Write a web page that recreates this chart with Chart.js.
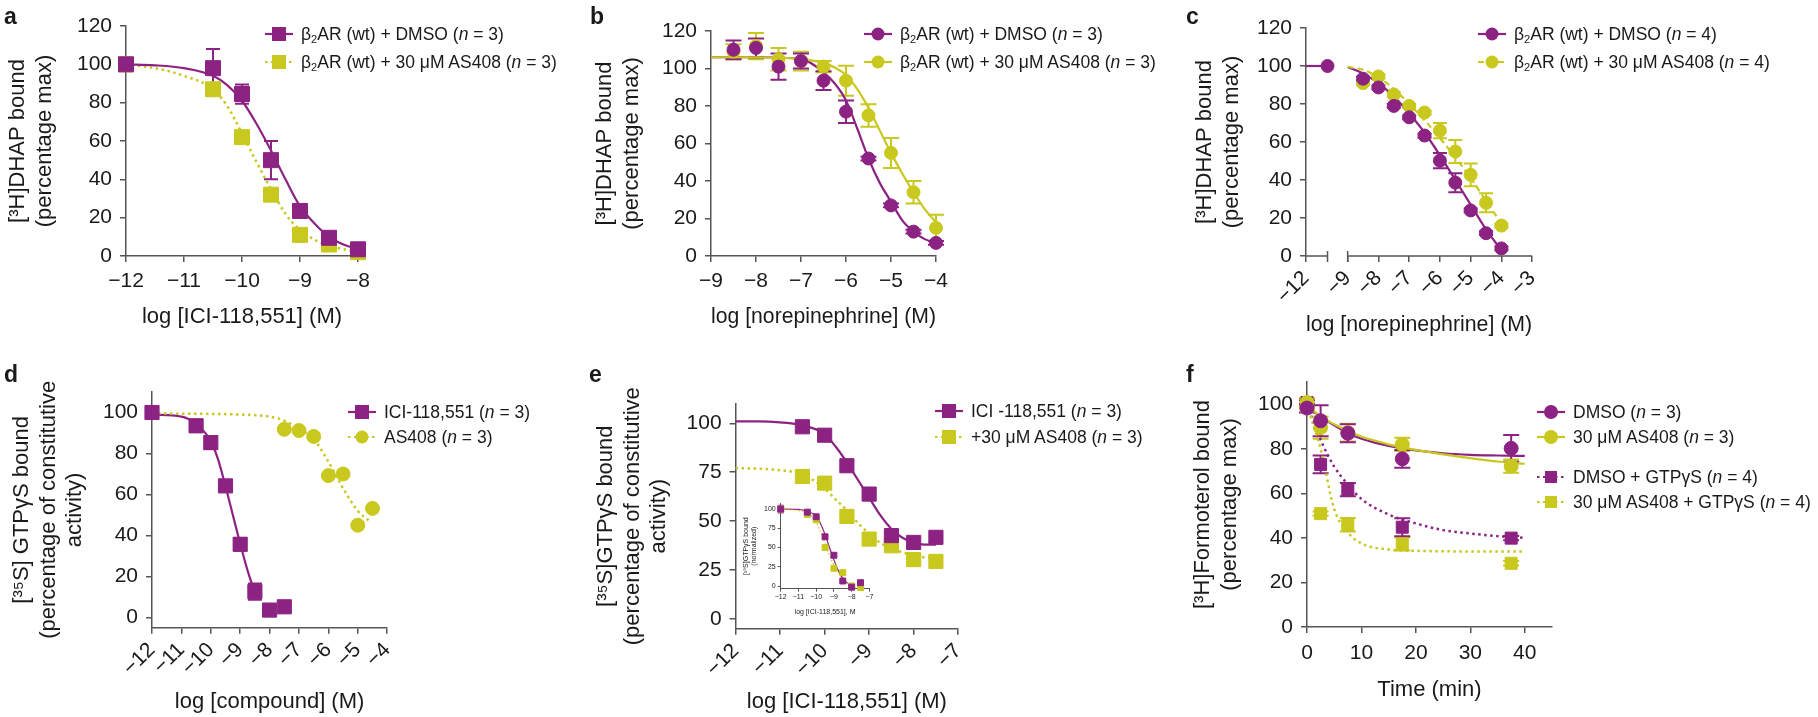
<!DOCTYPE html>
<html>
<head>
<meta charset="utf-8">
<script src="https://cdn.jsdelivr.net/npm/chart.js@4.4.0/dist/chart.umd.min.js"></script>
<style>
  body { margin: 0; background: #fff; }
  #fig { position: relative; width: 1818px; height: 717px; overflow: hidden; background: #fff;
         font-family: "Liberation Sans", Arial, Helvetica, sans-serif; color: #1a1a1a; }
  .tag { position: absolute; font-weight: bold; font-size: 23px; line-height: 24px; }
  .leg { position: absolute; font-size: 17.5px; line-height: 22px; white-space: nowrap; }
  .leg sub { font-size: 11px; vertical-align: -3px; line-height: 0; }
</style>
</head>
<body>
<div id="fig"></div>
<script>
const PURPLE = '#8c2382';
const YELLOW = '#c8c81e';
const AXIS = '#555';
const TXT = '#1a1a1a';

// ---- panel a : ICI-118,551 competition ----
const aX = [-12, -10.5, -10, -9.5, -9, -8.5, -8];
const aDmso = [100, 98, 84.5, 50, 23.5, 9.5, 3.5];
const aDmsoErr = [0, 10, 5, 10, 1.5, 1, 1];
const aAs408 = [100, 87, 62, 32, 11, 6, 2];
const aFitX = [-12, -11.5, -11, -10.5, -10.25, -10, -9.75, -9.5, -9.25, -9, -8.75, -8.5, -8.25, -8];
const aDmsoFit = [100, 99.5, 98, 94, 89, 81, 69, 55, 40, 26, 17, 10, 6, 3.5];
const aAs408Fit = [100, 98, 94, 87, 78, 64, 49, 35, 22, 13.5, 8.5, 5.5, 3.5, 2];
const aXTicks = [-12, -11, -10, -9, -8];
const aYTicks = [0, 20, 40, 60, 80, 100, 120];

// ---- panel b : norepinephrine competition ----
const bX = [-8.5, -8, -7.5, -7, -6.5, -6, -5.5, -5, -4.5, -4];
const bDmso = [110, 111, 101, 104, 93.5, 77, 52, 27, 13, 7];
const bDmsoErr = [5, 5, 7, 4, 5, 6, 1, 1, 1, 1];
const bAs408 = [109, 112, 105, 104, 101, 93.5, 75, 55, 34, 15];
const bAs408Err = [4, 7, 6, 5, 3, 8, 6, 8, 6, 7];
const bFitX = [-9, -8, -7, -6.5, -6.25, -6, -5.75, -5.5, -5.25, -5, -4.75, -4.5, -4.25, -4];
const bDmsoFit = [106, 106, 105, 98, 92, 83, 68, 52, 39, 29, 19, 13, 9, 7];
const bAs408Fit = [106, 106, 105, 103, 100.5, 96.5, 89, 79, 67, 55, 44, 34, 25, 18];
const bXTicks = [-9, -8, -7, -6, -5, -4];
const bYTicks = [0, 20, 40, 60, 80, 100, 120];

// ---- panel c : norepinephrine, broken axis ----
const cVehicleX = -11.3;
const cVehicle = 100;
const cX = [-8.5, -8, -7.5, -7, -6.5, -6, -5.5, -5, -4.5, -4];
const cDmso = [93.3, 88.7, 79, 73, 63.4, 50.2, 38.6, 24, 12, 4];
const cDmsoErr = [1, 1, 1, 1, 1, 4, 5, 1, 1, 1];
const cAs408 = [91, 94.5, 85, 79, 75.5, 66, 55, 42.7, 28, 16];
const cAs408Err = [1, 1, 1, 1, 1, 4, 6, 6, 5, 1];
const cFitX = [-9, -8.5, -8, -7.5, -7, -6.5, -6, -5.5, -5, -4.5, -4];
const cDmsoFit = [99.5, 96, 91, 84, 75, 65, 53, 40, 27, 14, 3];
const cAs408Fit = [99.5, 98, 94, 88, 80, 71.5, 62, 52, 41, 29, 17];
const cXTicks = [-12, -9, -8, -7, -6, -5, -4, -3];
const cYTicks = [0, 20, 40, 60, 80, 100, 120];
const cGap = 1.645; // axis units removed by the break

// ---- panel d : [35S]GTPgS ----
const dIciX = [-12, -10.5, -10, -9.5, -9, -8.5, -8, -7.5];
const dIci = [100, 93.5, 85.3, 64.2, 35.7, 12.6, 3.6, 5.2];
const dIciErr = [0, 3, 3, 2, 3, 4, 2, 2];
const dAsX = [-7.5, -7, -6.5, -6, -5.5, -5, -4.5];
const dAs408 = [91.8, 91.2, 88.3, 69.2, 70, 45, 53.2];
const dIciFitX = [-12, -11, -10.5, -10, -9.75, -9.5, -9.25, -9, -8.75, -8.5];
const dIciFit = [99, 98, 94.5, 86, 77, 64, 50, 36, 23, 12];
const dAsFitX = [-12, -10, -9, -8, -7.5, -7, -6.5, -6, -5.5, -5, -4.6];
const dAsFit = [99.5, 99.3, 99, 98, 96, 92, 87, 76, 63, 52, 47];
const dXTicks = [-12, -11, -10, -9, -8, -7, -6, -5, -4];
const dYTicks = [0, 20, 40, 60, 80, 100];

// ---- panel e : ICI-118,551 +/- AS408 ----
const eX = [-10.5, -10, -9.5, -9, -8.5, -8, -7.5];
const eIci = [98.2, 93.9, 78.3, 63.8, 42.6, 39.1, 41.7];
const eAs408 = [72.8, 69.4, 52.4, 40.8, 37.4, 30.3, 29.4];
const eFitX = [-12, -11.5, -11, -10.5, -10, -9.75, -9.5, -9.25, -9, -8.75, -8.5, -8.25, -8, -7.75, -7.5];
const eIciFit = [101, 101, 100.5, 99, 94.5, 88, 80, 71, 62, 53, 46, 41.5, 39, 38, 38];
const eAs408Fit = [77, 76.8, 76, 74, 66.5, 61, 55.5, 49, 43.5, 39, 36, 34, 32.5, 31.5, 31];
const eXTicks = [-12, -11, -10, -9, -8, -7];
const eYTicks = [0, 25, 50, 75, 100];

// inset (normalized)
const insX = [-12, -10.5, -10, -9.5, -9, -8.5, -8, -7.5];
const insIci = [100, 96, 90, 64, 40, 6.5, -1.5, 4.3];
const insIciErr = [5, 0, 0, 0, 0, 0, 0, 0];
const insAs408 = [100, 93, 86, 50, 23, 17.4, 0, -2];
const insFitX = [-12, -11, -10.5, -10, -9.75, -9.5, -9.25, -9, -8.75, -8.5, -8.25, -8];
const insIciFit = [100, 99.5, 97, 91, 81, 67, 50, 34, 20, 10, 4, 1];
const insAs408Fit = [100, 98, 95, 83, 70, 55, 40, 27, 17, 9, 4, 1];
const insXTicks = [-12, -11, -10, -9, -8, -7];
const insYTicks = [0, 25, 50, 75, 100];

// ---- panel f : [3H]formoterol dissociation ----
const fX = [0, 2.5, 7.5, 17.5, 37.5];
const fDmso = [98.3, 92.6, 87, 75.5, 80.2];
const fDmsoErr = [2, 7, 4, 4, 6];
const fAs408 = [100.8, 89.5, 87.3, 82, 72.2];
const fAs408Err = [2, 5, 4, 3, 3];
const fDmsoGtp = [100.8, 73, 61.7, 44.8, 39.9];
const fDmsoGtpErr = [1, 4, 3, 4, 1];
const fAs408Gtp = [99, 50.9, 45.9, 37.3, 28.6];
const fAs408GtpErr = [1, 1, 3, 3, 1];
const fFitX = [0, 1, 2.5, 5, 7.5, 10, 15, 20, 25, 30, 35, 40];
const fDmsoFit = [98.5, 97, 94.5, 90.5, 87, 84.5, 81.3, 79.3, 78, 77.3, 77, 76.8];
const fAs408Fit = [99.5, 97.5, 94.5, 91, 88, 85.5, 82, 79.5, 77.5, 75.8, 74.3, 73.3];
const fDmsoGtpFit = [100, 93, 84, 72, 64, 57.5, 50.5, 46.5, 43.5, 42, 40.8, 40];
const fAs408GtpFit = [100, 92, 80, 53, 42.5, 37.5, 34.8, 34.2, 34, 33.9, 33.9, 33.9];
const fXTicks = [0, 10, 20, 30, 40];
const fYTicks = [0, 20, 40, 60, 80, 100];

Chart.defaults.font.family = '"Liberation Sans", Arial, Helvetica, sans-serif';
Chart.defaults.color = TXT;

const fig = document.getElementById('fig');
const fmt = v => String(v).replace('-', '\u2212');
const xy = (xs, ys) => xs.map((x, i) => ({ x: x, y: ys[i] }));

function points(xs, ys, errs, color, style, r, order) {
  return { data: xy(xs, ys), errors: errs, showLine: false, pointStyle: style, pointRadius: r,
           pointBackgroundColor: color, pointBorderColor: color, pointBorderWidth: 1,
           backgroundColor: color, borderColor: color, order: order, clip: false };
}
function fit(xs, ys, color, dash, lw) {
  return { data: xy(xs, ys), showLine: true, pointRadius: 0, borderColor: color, borderWidth: lw || 2.2,
           borderDash: dash || [], cubicInterpolationMode: 'monotone', fill: false, order: 5, clip: false };
}

// error bars, drawn under the markers
const errorBars = {
  id: 'errorBars',
  beforeDatasetsDraw(chart, args, opts) {
    const ctx = chart.ctx, xs = chart.scales.x, ys = chart.scales.y;
    const cap = opts.cap || 7;
    chart.data.datasets.forEach(ds => {
      if (!ds.errors) return;
      ctx.save();
      ctx.strokeStyle = ds.borderColor;
      ctx.lineWidth = opts.width || 2;
      ds.data.forEach((p, i) => {
        const e = ds.errors[i];
        if (!e) return;
        const px = xs.getPixelForValue(p.x);
        const top = ys.getPixelForValue(p.y + e), bot = ys.getPixelForValue(p.y - e);
        ctx.beginPath();
        ctx.moveTo(px, top); ctx.lineTo(px, bot);
        ctx.moveTo(px - cap, top); ctx.lineTo(px + cap, top);
        ctx.moveTo(px - cap, bot); ctx.lineTo(px + cap, bot);
        ctx.stroke();
      });
      ctx.restore();
    });
  }
};

// broken x axis (panel c)
const axisBreak = {
  id: 'axisBreak',
  afterDraw(chart, args, opts) {
    if (!opts.segments) return;
    const ctx = chart.ctx, xs = chart.scales.x, yb = chart.chartArea.bottom;
    ctx.save();
    ctx.strokeStyle = AXIS;
    ctx.lineWidth = 1.5;
    opts.segments.forEach(s => {
      ctx.beginPath();
      ctx.moveTo(xs.getPixelForValue(s[0]), yb);
      ctx.lineTo(xs.getPixelForValue(s[1]), yb);
      ctx.stroke();
    });
    opts.caps.forEach(v => {
      const p = xs.getPixelForValue(v);
      ctx.beginPath(); ctx.moveTo(p, yb - 5); ctx.lineTo(p, yb + 6); ctx.stroke();
    });
    ctx.restore();
  }
};

// g: canvas box (cl, ct, cw, ch) and plot area (l, r, t, b) in page pixels
function panel(g, s) {
  const cv = document.createElement('canvas');
  cv.width = g.cw; cv.height = g.ch;
  cv.style.cssText = `position:absolute;left:${g.cl}px;top:${g.ct}px;width:${g.cw}px;height:${g.ch}px;`;
  fig.appendChild(cv);
  const fs = s.fs || 21, tfs = s.tfs || 22, tl = s.tl || 6, lw = s.lw || 1.5;
  const base = (ticks, label) => ({
    type: 'linear',
    afterBuildTicks: sc => { sc.ticks = ticks.map(v => ({ value: v })); },
    grid: { display: true, drawOnChartArea: false, drawTicks: true, tickLength: tl, color: AXIS, lineWidth: lw },
    border: { display: true, color: AXIS, width: lw },
    ticks: { font: { size: fs }, color: TXT, autoSkip: false, callback: label || fmt }
  });
  const x = base(s.xTicks, s.xLabel);
  x.min = s.xMin; x.max = s.xMax;
  x.afterFit = sc => { sc.height = g.ct + g.ch - g.b; };
  x.ticks.padding = s.xPad != null ? s.xPad : 7;
  x.ticks.maxRotation = s.rot || 0; x.ticks.minRotation = s.rot || 0;
  x.title = { display: true, text: s.xTitle, color: TXT, font: { size: tfs, lineHeight: 1.2 }, padding: { top: 0, bottom: 0 } };
  if (s.noXBorder) x.border.display = false;
  const y = base(s.yTicks);
  y.min = s.yMin; y.max = s.yMax;
  y.afterFit = sc => { sc.width = g.l - g.cl; };
  y.ticks.padding = s.yPad != null ? s.yPad : 8;
  y.title = { display: true, text: s.yTitle, color: TXT, font: { size: tfs, lineHeight: s.tlh || 1.2 }, padding: { top: s.ytPad != null ? s.ytPad : 5, bottom: 0 } };
  return new Chart(cv, {
    type: 'scatter',
    data: { datasets: s.datasets },
    options: {
      responsive: false, animation: false, events: [],
      layout: { padding: { left: 0, bottom: 0, top: g.t - g.ct, right: g.cl + g.cw - g.r } },
      plugins: { legend: { display: false }, tooltip: { enabled: false },
                 errorBars: { cap: s.cap || 7, width: s.ebw || 2 }, axisBreak: s.axisBreak || {} },
      scales: { x: x, y: y }
    },
    plugins: [errorBars, axisBreak]
  });
}

function tag(txt, left, top) {
  const d = document.createElement('div');
  d.className = 'tag'; d.textContent = txt;
  d.style.left = left + 'px'; d.style.top = top + 'px';
  fig.appendChild(d);
}

function legend(cx, rows) {
  rows.forEach(r => {
    const mk = r.shape === 'rect'
      ? `<rect x="${15 - r.s / 2}" y="${11 - r.s / 2}" width="${r.s}" height="${r.s}" fill="${r.color}"/>`
      : `<circle cx="15" cy="11" r="${r.s / 2}" fill="${r.color}"/>`;
    const svg = document.createElementNS('http://www.w3.org/2000/svg', 'svg');
    svg.setAttribute('width', 30); svg.setAttribute('height', 22);
    svg.style.cssText = `position:absolute;left:${cx - 15}px;top:${r.y - 11}px;`;
    svg.innerHTML = `<line x1="1" y1="11" x2="29" y2="11" stroke="${r.color}" stroke-width="2.2"${r.dash ? ` stroke-dasharray="${r.dash}"` : ''}/>` + mk;
    fig.appendChild(svg);
    const t = document.createElement('div');
    t.className = 'leg'; t.innerHTML = r.html;
    t.style.left = (cx + 22) + 'px'; t.style.top = (r.y - 11) + 'px';
    fig.appendChild(t);
  });
}

const DOT = [2.5, 3.5];
const b2 = 'β<sub>2</sub>AR (wt)';

// ---- a ----
panel({ cl: 0, ct: 0, cw: 378, ch: 330, l: 126, r: 358, t: 26, b: 256 }, {
  xMin: -12, xMax: -8, yMin: 0, yMax: 120, xTicks: aXTicks, yTicks: aYTicks,
  xTitle: 'log [ICI-118,551] (M)', yTitle: ['[³H]DHAP bound', '(percentage max)'],
  datasets: [
    fit(aFitX, aDmsoFit, PURPLE), fit(aFitX, aAs408Fit, YELLOW, DOT, 2.5),
    points(aX, aAs408, null, YELLOW, 'rect', 10.6, 2),
    points(aX, aDmso, aDmsoErr, PURPLE, 'rect', 10.6, 1)
  ]
});
tag('a', 4, 4);
legend(279, [
  { y: 34, color: PURPLE, shape: 'rect', s: 14, html: b2 + ' + DMSO (<i>n</i> = 3)' },
  { y: 62, color: YELLOW, shape: 'rect', s: 14, dash: '2.5 3.5', html: b2 + ' + 30 μM AS408 (<i>n</i> = 3)' }
]);

// ---- b ----
panel({ cl: 587, ct: 0, cw: 369, ch: 330, l: 711, r: 936, t: 31, b: 256 }, {
  xMin: -9, xMax: -4, yMin: 0, yMax: 120, xTicks: bXTicks, yTicks: bYTicks, cap: 8,
  xTitle: 'log [norepinephrine] (M)', yTitle: ['[³H]DHAP bound', '(percentage max)'],
  datasets: [
    fit(bFitX, bAs408Fit, YELLOW), fit(bFitX, bDmsoFit, PURPLE),
    points(bX, bAs408, bAs408Err, YELLOW, 'circle', 6.5, 2),
    points(bX, bDmso, bDmsoErr, PURPLE, 'circle', 6.5, 1)
  ]
});
tag('b', 590, 4);
legend(878, [
  { y: 34, color: PURPLE, shape: 'circle', s: 13, html: b2 + ' + DMSO (<i>n</i> = 3)' },
  { y: 62, color: YELLOW, shape: 'circle', s: 13, html: b2 + ' + 30 μM AS408 (<i>n</i> = 3)' }
]);

// ---- c ---- (axis unit u: values right of the break are shifted left by cGap)
const cu = v => (v >= -9 ? v - cGap : v);
const cuArr = xs => xs.map(cu);
panel({ cl: 1187, ct: 0, cw: 367, ch: 338, l: 1306, r: 1534, t: 28, b: 256 }, {
  xMin: -12, xMax: cu(-3), yMin: 0, yMax: 120, xTicks: cuArr(cXTicks), yTicks: cYTicks, rot: 45, xPad: 4,
  xLabel: (v, i) => fmt(cXTicks[i]), noXBorder: true,
  axisBreak: { segments: [[-12, cVehicleX], [cu(-9), cu(-3)]], caps: [cVehicleX, cu(-9)] },
  xTitle: 'log [norepinephrine] (M)', yTitle: ['[³H]DHAP bound', '(percentage max)'],
  datasets: [
    fit(cuArr(cFitX), cAs408Fit, YELLOW, [6, 4]), fit(cuArr(cFitX), cDmsoFit, PURPLE),
    fit([-12, cVehicleX], [cVehicle, cVehicle], PURPLE),
    points(cuArr(cX), cAs408, cAs408Err, YELLOW, 'circle', 6.5, 2),
    points([cVehicleX].concat(cuArr(cX)), [cVehicle].concat(cDmso), [0].concat(cDmsoErr), PURPLE, 'circle', 6.5, 1)
  ]
});
tag('c', 1186, 4);
legend(1492, [
  { y: 34, color: PURPLE, shape: 'circle', s: 13, html: b2 + ' + DMSO (<i>n</i> = 4)' },
  { y: 62, color: YELLOW, shape: 'circle', s: 13, dash: '6 4', html: b2 + ' + 30 μM AS408 (<i>n</i> = 4)' }
]);

// ---- d ----
panel({ cl: 4, ct: 357, cw: 405, ch: 358, l: 152, r: 389, t: 392, b: 627.7 }, {
  xMin: -12, xMax: -4, yMin: -5, yMax: 110, xTicks: dXTicks, yTicks: dYTicks, rot: 45, xPad: 4,
  xTitle: 'log [compound] (M)', yTitle: ['[³⁵S] GTPγS bound', '(percentage of constitutive', 'activity)'],
  datasets: [
    fit(dAsFitX, dAsFit, YELLOW, DOT, 2.5), fit(dIciFitX, dIciFit, PURPLE),
    points(dAsX, dAs408, null, YELLOW, 'circle', 7, 2),
    points(dIciX, dIci, dIciErr, PURPLE, 'rect', 10, 1)
  ]
});
tag('d', 4, 362);
legend(362, [
  { y: 412, color: PURPLE, shape: 'rect', s: 14, html: 'ICI-118,551 (<i>n</i> = 3)' },
  { y: 437, color: YELLOW, shape: 'circle', s: 13, dash: '2.5 3.5', html: 'AS408 (<i>n</i> = 3)' }
]);

// ---- e ----
panel({ cl: 588, ct: 357, cw: 392, ch: 358, l: 735.6, r: 960.5, t: 403.7, b: 628.7 }, {
  xMin: -12, xMax: -7, yMin: -5, yMax: 110, xTicks: eXTicks, yTicks: eYTicks, rot: 45, xPad: 4,
  xTitle: 'log [ICI-118,551] (M)', yTitle: ['[³⁵S]GTPγS bound', '(percentage of constitutive', 'activity)'],
  datasets: [
    fit(eFitX, eAs408Fit, YELLOW, DOT, 2.5), fit(eFitX, eIciFit, PURPLE),
    points(eX, eAs408, null, YELLOW, 'rect', 10, 2),
    points(eX, eIci, null, PURPLE, 'rect', 10, 1)
  ]
});
tag('e', 589, 362);
legend(949, [
  { y: 411, color: PURPLE, shape: 'rect', s: 14, html: 'ICI -118,551 (<i>n</i> = 3)' },
  { y: 437, color: YELLOW, shape: 'rect', s: 14, dash: '2.5 3.5', html: '+30 μM AS408 (<i>n</i> = 3)' }
]);
// inset
panel({ cl: 742, ct: 495, cw: 133, ch: 121, l: 780.7, r: 869.4, t: 503.7, b: 588.7 }, {
  xMin: -12, xMax: -7, yMin: -3.5, yMax: 107, xTicks: insXTicks, yTicks: insYTicks,
  fs: 7, tfs: 7, tl: 3, lw: 1, xPad: 1, yPad: 2, ytPad: 0, tlh: 1.15, cap: 3, ebw: 1,
  xTitle: 'log [ICI-118,551], M', yTitle: ['[³⁵S]GTPγS bound', '(normalized)'],
  datasets: [
    fit(insFitX, insAs408Fit, YELLOW, [1.5, 2], 1.2), fit(insFitX, insIciFit, PURPLE, [], 1.2),
    points(insX, insAs408, null, YELLOW, 'rect', 4.2, 2),
    points(insX, insIci, insIciErr, PURPLE, 'rect', 4.2, 1)
  ]
});

// ---- f ----
panel({ cl: 1185, ct: 357, cw: 387, ch: 346, l: 1307, r: 1552, t: 382, b: 627 }, {
  xMin: 0, xMax: 45, yMin: 0, yMax: 110, xTicks: fXTicks, yTicks: fYTicks, xPad: 8, cap: 8,
  xTitle: 'Time (min)', yTitle: ['[³H]Formoterol bound', '(percentage max)'],
  datasets: [
    fit(fFitX, fAs408GtpFit, YELLOW, DOT, 2.5), fit(fFitX, fDmsoGtpFit, PURPLE, DOT, 2.5),
    fit(fFitX, fAs408Fit, YELLOW), fit(fFitX, fDmsoFit, PURPLE),
    points(fX, fAs408Gtp, fAs408GtpErr, YELLOW, 'rect', 8.5, 4),
    points(fX, fDmsoGtp, fDmsoGtpErr, PURPLE, 'rect', 8.5, 3),
    points(fX, fAs408, fAs408Err, YELLOW, 'circle', 7, 2),
    points(fX, fDmso, fDmsoErr, PURPLE, 'circle', 7, 1)
  ]
});
tag('f', 1186, 362);
legend(1551, [
  { y: 412, color: PURPLE, shape: 'circle', s: 14, html: 'DMSO (<i>n</i> = 3)' },
  { y: 437, color: YELLOW, shape: 'circle', s: 14, html: '30 μM AS408 (<i>n</i> = 3)' },
  { y: 477, color: PURPLE, shape: 'rect', s: 12, dash: '2.5 3.5', html: 'DMSO + GTPγS (<i>n</i> = 4)' },
  { y: 502, color: YELLOW, shape: 'rect', s: 12, dash: '2.5 3.5', html: '30 μM AS408 + GTPγS (<i>n</i> = 4)' }
]);
</script>
</body>
</html>
